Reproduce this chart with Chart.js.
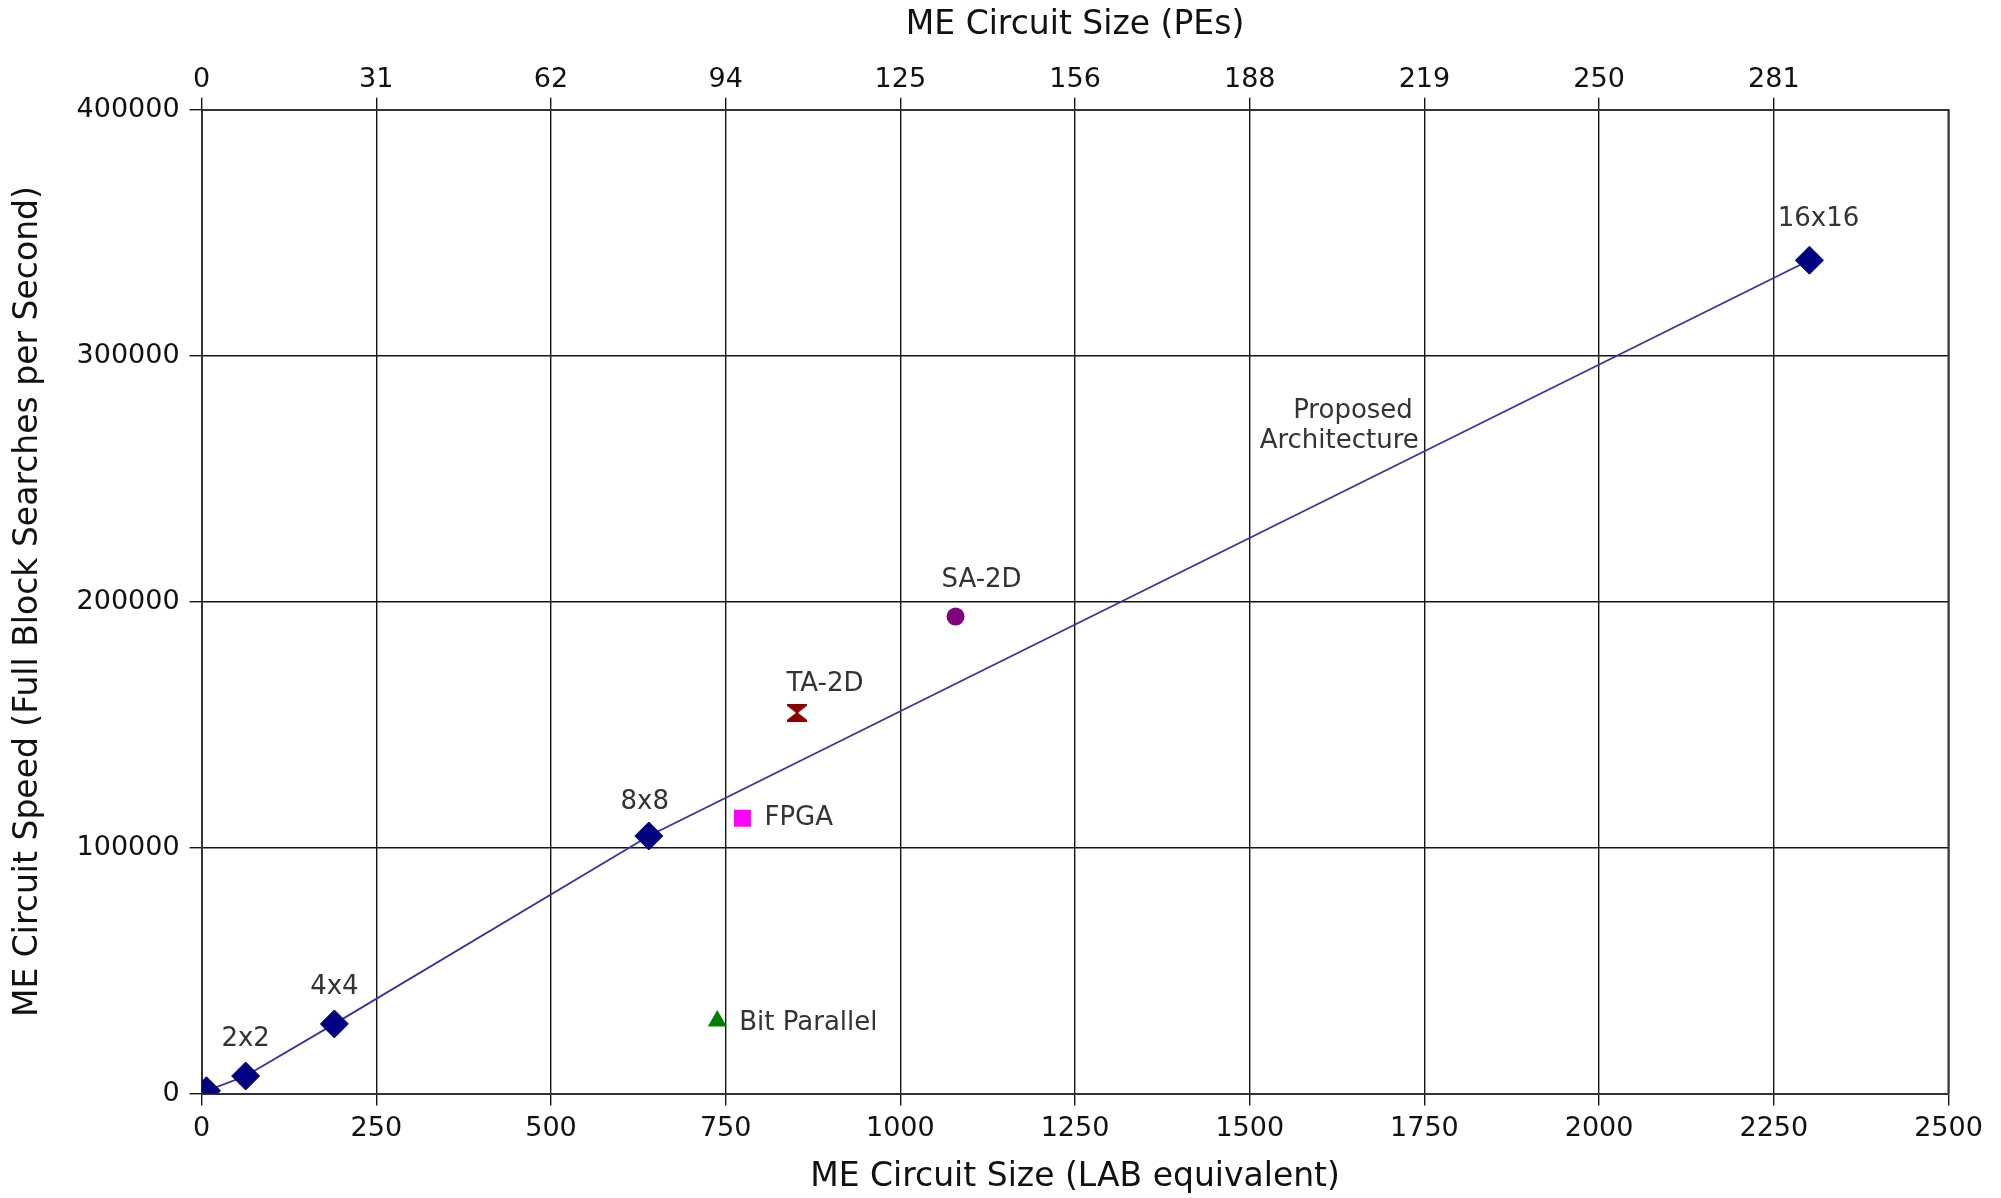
<!DOCTYPE html>
<html>
<head>
<meta charset="utf-8">
<script src="https://cdn.jsdelivr.net/npm/chart.js@4/dist/chart.umd.min.js"></script>
<style>
  html, body { margin: 0; padding: 0; background: #fff; }
  #wrap { width: 2001px; height: 1198px; }
</style>
</head>
<body>
<div id="wrap"><canvas id="chart"></canvas></div>
<script>
// Proposed architecture: LAB equivalent vs full block searches per second
const proposedNames = ["", "2x2", "4x4", "8x8", "16x16"];
const proposedLAB = [7, 63, 190, 640, 2301];
const proposedSpeed = [1100, 7100, 28300, 104700, 338800];

// Other published designs
const otherNames = ["Bit Parallel", "FPGA", "TA-2D", "SA-2D"];
const otherLAB = [738, 774, 852, 1079];
const otherSpeed = [29500, 111900, 154800, 193900];

// Top axis labels (PEs), one per bottom grid line
const peTickLabels = ["0", "31", "62", "94", "125", "156", "188", "219", "250", "281"];

const FONT = "'DejaVu Sans', sans-serif";
const GRID = "#151515";
const AXIS = "#333";

function hourglass(color) {
  const c = document.createElement("canvas");
  c.width = 20;
  c.height = 18;
  const g = c.getContext("2d");
  g.fillStyle = color;
  g.beginPath();
  g.moveTo(0, 0); g.lineTo(20, 0); g.lineTo(20, 2); g.lineTo(11, 9);
  g.lineTo(20, 16); g.lineTo(20, 18); g.lineTo(0, 18); g.lineTo(0, 16);
  g.lineTo(9, 9); g.lineTo(0, 2);
  g.closePath();
  g.fill();
  return c;
}

const otherStyles = [
  { pointStyle: "triangle", color: "#008000", radius: 11 },
  { pointStyle: "rect", color: "#ff00ff", radius: 12 },
  { pointStyle: hourglass("#8b0000"), color: "#8b0000", radius: 10 },
  { pointStyle: "circle", color: "#800080", radius: 9 },
];

// Label placement relative to the marker (pixels)
const labelPlacement = {
  "2x2": { dx: 0, dy: -37 },
  "4x4": { dx: 0, dy: -37 },
  "8x8": { dx: -4, dy: -34 },
  "16x16": { dx: 9, dy: -41 },
  "Bit Parallel": { dx: 22, dy: 2, align: "left" },
  "FPGA": { dx: 22, dy: 0, align: "left" },
  "TA-2D": { dx: 28, dy: -29 },
  "SA-2D": { dx: 26, dy: -36 },
};

const labelsPlugin = {
  id: "markLabels",
  afterDatasetsDraw(chart) {
    const ctx = chart.ctx;
    ctx.save();
    ctx.font = "26px " + FONT;
    ctx.fillStyle = "#333";
    ctx.textBaseline = "middle";
    chart.data.datasets.forEach((ds, di) => {
      const meta = chart.getDatasetMeta(di);
      ds.markNames.forEach((name, i) => {
        if (!name) return;
        const p = labelPlacement[name];
        const el = meta.data[i];
        ctx.textAlign = p.align || "center";
        ctx.fillText(name, el.x + p.dx, el.y + p.dy);
      });
    });
    // series caption next to the line
    const x = chart.scales.x.getPixelForValue(1742);
    const y = chart.scales.y.getPixelForValue(271300);
    ctx.textAlign = "right";
    ctx.fillText("Proposed", x - 6, y - 15);
    ctx.fillText("Architecture", x, y + 15);
    ctx.restore();
  },
};

const framePlugin = {
  id: "frame",
  beforeDatasetsDraw(chart) {
    const { ctx, chartArea: a } = chart;
    ctx.save();
    ctx.strokeStyle = AXIS;
    ctx.lineWidth = 2;
    ctx.beginPath();
    ctx.moveTo(a.right, a.top);
    ctx.lineTo(a.right, a.bottom);
    ctx.stroke();
    ctx.restore();
  },
};

const datasets = [
  {
    label: "Proposed Architecture",
    markNames: proposedNames,
    data: proposedLAB.map((v, i) => ({ x: v, y: proposedSpeed[i] })),
    showLine: true,
    borderColor: "#3434a8",
    borderWidth: 1.8,
    pointStyle: "rectRot",
    pointRadius: 14,
    pointBackgroundColor: "#000080",
    pointBorderColor: "#000080",
    pointBorderWidth: 1,
  },
  ...otherNames.map((name, i) => ({
    label: name,
    markNames: [name],
    data: [{ x: otherLAB[i], y: otherSpeed[i] }],
    pointStyle: otherStyles[i].pointStyle,
    pointRadius: otherStyles[i].radius,
    pointBackgroundColor: otherStyles[i].color,
    pointBorderColor: otherStyles[i].color,
    pointBorderWidth: 0,
  })),
];

const titleFont = { family: FONT, size: 33 };
const tickFont = { family: FONT, size: 27 };

new Chart(document.getElementById("chart"), {
  type: "scatter",
  data: { datasets },
  options: {
    responsive: true,
    maintainAspectRatio: false,
    animation: false,
    devicePixelRatio: 1,
    layout: { padding: { left: 0, right: 52.5, top: 0, bottom: 0 } },
    plugins: {
      legend: { display: false },
      tooltip: { enabled: false },
    },
    scales: {
      x: {
        type: "linear",
        position: "bottom",
        min: 0,
        max: 2500,
        afterFit: (s) => { s.height = 104.5; },
        ticks: {
          stepSize: 250,
          font: tickFont,
          color: "#111",
          padding: 7,
          maxRotation: 0,
          callback: (v) => String(v),
        },
        grid: { color: GRID, lineWidth: 1.4, tickLength: 12 },
        border: { color: AXIS, width: 2 },
        title: {
          display: true,
          text: "ME Circuit Size (LAB equivalent)",
          font: titleFont,
          color: "#111",
          padding: { top: 0, bottom: 1 },
        },
      },
      x2: {
        type: "linear",
        position: "top",
        min: 0,
        max: 2500,
        afterFit: (s) => { s.height = 109.7; },
        ticks: {
          stepSize: 250,
          font: tickFont,
          color: "#111",
          padding: 2,
          maxRotation: 0,
          callback: (v, i) => peTickLabels[i] ?? "",
        },
        grid: {
          drawOnChartArea: false,
          color: (c) => (c.index < peTickLabels.length ? GRID : "rgba(0,0,0,0)"),
          lineWidth: 1.4,
          tickLength: 12,
        },
        border: { color: AXIS, width: 2 },
        title: {
          display: true,
          text: "ME Circuit Size (PEs)",
          font: titleFont,
          color: "#111",
          padding: { top: 6, bottom: 0 },
        },
      },
      y: {
        type: "linear",
        min: 0,
        max: 400000,
        afterFit: (s) => { s.width = 201.6; },
        ticks: {
          stepSize: 100000,
          font: tickFont,
          color: "#111",
          padding: 10,
          callback: (v) => String(v),
        },
        grid: { color: GRID, lineWidth: 1.4, tickLength: 12 },
        border: { color: AXIS, width: 2 },
        title: {
          display: true,
          text: "ME Circuit Speed (Full Block Searches per Second)",
          font: titleFont,
          color: "#111",
          padding: { top: 9, bottom: 0 },
        },
      },
    },
  },
  plugins: [framePlugin, labelsPlugin],
});
</script>
</body>
</html>
